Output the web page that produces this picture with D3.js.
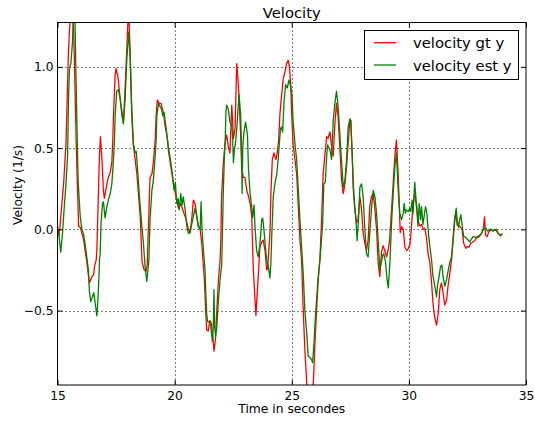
<!DOCTYPE html>
<html>
<head>
<meta charset="utf-8">
<script src="https://cdn.jsdelivr.net/npm/d3@7"></script>
<style>
  html, body { margin: 0; padding: 0; background: #fff; }
  svg { display: block; font-family: "DejaVu Sans", sans-serif; }
</style>
</head>
<body>
<svg id="chart" width="535" height="423"></svg>
<script>
// ---------------- data ----------------
const titleText = "Velocity";
const xLabelText = "Time in secondes";
const yLabelText = "Velocity (1/s)";
const seriesNames = ["velocity gt y", "velocity est y"];
const seriesColors = ["#ff0000", "#008000"];

const xTicks = [15, 20, 25, 30, 35];
const yTicks = [-0.5, 0.0, 0.5, 1.0];
const xDomain = [15, 35];
const yDomain = [-0.958, 1.273];

const gtTime = [15.00,15.07,15.26,15.36,15.47,15.58,15.65,15.71,15.80,15.90,15.98,16.12,16.25,16.36,16.47,16.54,16.58,16.65,16.68,16.75,16.79,16.83,16.89,16.96,17.00,17.11,17.17,17.25,17.32,17.36,17.39,17.46,17.50,17.58,17.67,17.79,17.82,17.93,18.00,18.04,18.10,18.17,18.24,18.39,18.53,18.61,18.70,18.77,18.83,18.91,18.95,19.03,19.09,19.17,19.21,19.26,19.34,19.42,19.52,19.59,19.69,19.73,19.84,19.95,20.06,20.16,20.26,20.37,20.49,20.59,20.66,20.73,20.80,20.87,20.94,21.01,21.09,21.16,21.23,21.27,21.33,21.37,21.44,21.50,21.57,21.63,21.68,21.74,21.80,21.87,21.94,21.97,22.01,22.08,22.15,22.22,22.29,22.36,22.44,22.51,22.58,22.65,22.70,22.75,22.82,22.86,22.93,23.00,23.08,23.14,23.22,23.29,23.36,23.47,23.61,23.64,23.72,23.78,23.86,23.93,23.97,24.07,24.11,24.17,24.24,24.33,24.38,24.44,24.50,24.57,24.64,24.71,24.78,24.85,24.90,24.95,25.00,25.06,25.21,25.28,25.35,25.42,25.49,25.56,25.64,25.69,25.86,25.92,25.99,26.06,26.13,26.20,26.27,26.34,26.41,26.49,26.55,26.63,26.70,26.77,26.84,26.91,26.98,27.05,27.13,27.20,27.27,27.34,27.41,27.48,27.52,27.58,27.62,27.69,27.77,27.83,27.91,27.98,28.05,28.12,28.19,28.26,28.33,28.40,28.47,28.54,28.62,28.69,28.76,28.83,28.90,28.97,29.05,29.11,29.18,29.25,29.32,29.40,29.47,29.54,29.59,29.63,29.69,29.76,29.83,29.91,29.97,30.05,30.11,30.18,30.25,30.33,30.39,30.47,30.54,30.61,30.68,30.75,30.82,30.89,30.96,31.03,31.10,31.18,31.25,31.32,31.39,31.46,31.53,31.61,31.67,31.75,31.82,31.89,31.96,32.00,32.06,32.17,32.27,32.34,32.43,32.48,32.56,32.64,32.74,32.81,32.88,33.00,33.10,33.17,33.23,33.27,33.34,33.41,33.50,33.58,33.67,33.74,33.81,33.91,33.99];
const gtVel = [0.02,-0.04,0.28,0.52,1.11,1.40,1.40,1.11,0.52,0.02,0.01,-0.07,-0.20,-0.33,-0.29,-0.28,-0.23,-0.19,-0.13,0.24,0.45,0.57,0.45,0.24,0.19,0.28,0.32,0.35,0.41,0.55,0.70,0.95,0.99,0.94,0.81,0.68,0.67,1.01,1.26,1.33,1.11,0.70,0.52,0.34,0.08,-0.20,-0.25,-0.26,-0.22,0.14,0.32,0.34,0.41,0.55,0.70,0.795,0.775,0.775,0.72,0.64,0.56,0.49,0.385,0.28,0.20,0.13,0.16,0.11,0.06,0.00,-0.02,0.06,0.18,0.16,0.09,0.02,0.00,-0.09,-0.23,-0.31,-0.52,-0.62,-0.625,-0.56,-0.58,-0.66,-0.75,-0.68,-0.50,-0.31,-0.19,-0.08,0.22,0.41,0.53,0.58,0.51,0.47,0.765,0.56,0.62,1.02,0.93,0.81,0.58,0.385,0.32,0.32,0.24,0.21,0.16,0.08,-0.25,-0.53,-0.19,-0.11,-0.076,-0.066,-0.13,-0.25,-0.24,-0.025,0.22,0.43,0.47,0.43,0.47,0.55,0.72,0.83,0.93,0.97,1.02,1.04,1.00,0.91,0.70,0.52,0.34,0.14,-0.066,-0.19,-0.50,-0.74,-0.95,-1.05,-1.05,-0.95,-0.70,-0.50,-0.31,-0.19,0.04,0.34,0.45,0.57,0.56,0.60,0.51,0.45,0.65,0.775,0.69,0.51,0.30,0.22,0.28,0.385,0.53,0.67,0.67,0.47,0.26,0.12,0.04,0.06,0.20,0.12,-0.025,-0.086,-0.13,-0.066,0.14,0.20,0.22,0.14,0.00,-0.21,-0.29,-0.14,-0.10,-0.13,-0.17,-0.13,-0.066,0.10,0.26,0.45,0.55,0.35,0.15,-0.02,0.016,0.00,-0.11,-0.13,-0.12,-0.09,0.016,0.16,0.22,0.14,0.057,0.02,0.03,0.00,0.006,-0.05,-0.15,-0.20,-0.31,-0.455,-0.54,-0.59,-0.52,-0.37,-0.33,-0.39,-0.465,-0.435,-0.35,-0.27,-0.19,-0.045,0.077,0.10,0.026,0.02,0.00,-0.086,-0.117,-0.107,-0.11,-0.086,-0.076,-0.07,-0.055,-0.045,-0.025,-0.004,0.077,-0.035,-0.045,-0.015,-0.004,-0.01,-0.004,-0.01,-0.025,-0.035,-0.025];

const estTime = [15.00,15.04,15.14,15.21,15.29,15.36,15.43,15.47,15.51,15.57,15.64,15.68,15.74,15.78,15.83,15.88,15.97,16.04,16.11,16.18,16.25,16.32,16.36,16.42,16.49,16.55,16.61,16.68,16.72,16.77,16.79,16.82,16.86,16.92,16.96,17.03,17.11,17.17,17.25,17.32,17.39,17.43,17.46,17.53,17.60,17.67,17.75,17.81,17.89,17.96,18.04,18.10,18.17,18.24,18.27,18.31,18.36,18.41,18.50,18.60,18.67,18.74,18.78,18.81,18.86,18.90,18.95,19.03,19.09,19.17,19.21,19.24,19.31,19.38,19.44,19.49,19.55,19.64,19.73,19.84,19.92,19.98,20.03,20.09,20.15,20.20,20.26,20.32,20.37,20.45,20.52,20.59,20.66,20.73,20.80,20.87,20.94,21.01,21.09,21.13,21.17,21.23,21.30,21.33,21.37,21.41,21.48,21.54,21.61,21.65,21.68,21.71,21.75,21.80,21.87,21.94,22.01,22.08,22.12,22.16,22.19,22.22,22.29,22.36,22.44,22.48,22.51,22.55,22.60,22.65,22.75,22.82,22.86,22.88,22.91,22.96,23.03,23.11,23.15,23.22,23.29,23.33,23.39,23.43,23.50,23.57,23.64,23.72,23.76,23.81,23.89,23.94,24.00,24.07,24.11,24.14,24.21,24.28,24.36,24.42,24.46,24.52,24.56,24.61,24.67,24.74,24.81,24.88,24.95,25.01,25.06,25.14,25.21,25.28,25.35,25.42,25.49,25.56,25.64,25.70,25.78,25.84,25.89,25.95,26.00,26.06,26.13,26.20,26.25,26.32,26.37,26.43,26.49,26.53,26.59,26.63,26.70,26.77,26.84,26.91,26.98,27.06,27.13,27.20,27.27,27.34,27.41,27.48,27.52,27.58,27.65,27.74,27.79,27.85,27.91,27.98,28.05,28.12,28.19,28.26,28.33,28.41,28.48,28.55,28.62,28.69,28.76,28.83,28.88,28.93,29.00,29.07,29.12,29.19,29.26,29.33,29.40,29.47,29.54,29.61,29.69,29.76,29.80,29.85,29.90,29.97,30.04,30.08,30.14,30.18,30.25,30.33,30.39,30.44,30.50,30.54,30.60,30.65,30.71,30.77,30.82,30.89,30.97,31.03,31.11,31.18,31.22,31.29,31.35,31.41,31.46,31.53,31.61,31.67,31.75,31.82,31.89,31.96,32.02,32.06,32.12,32.17,32.22,32.27,32.34,32.43,32.53,32.60,32.67,32.74,32.83,32.93,33.03,33.10,33.17,33.28,33.35,33.45,33.52,33.59,33.67,33.74,33.81,33.91,33.99];
const estVel = [0.00,-0.01,-0.14,-0.03,0.14,0.28,0.45,0.80,0.99,1.02,1.15,1.35,1.35,1.01,0.64,0.30,0.08,0.00,-0.03,-0.09,-0.17,-0.25,-0.38,-0.445,-0.415,-0.39,-0.455,-0.533,-0.45,-0.29,-0.19,-0.15,0.04,0.16,0.17,0.07,0.14,0.18,0.22,0.28,0.43,0.55,0.70,0.85,0.86,0.81,0.70,0.65,0.81,1.05,1.215,1.05,0.74,0.52,0.51,0.47,0.48,0.385,0.20,0.02,-0.09,-0.23,-0.28,-0.32,-0.25,-0.19,0.06,0.24,0.30,0.45,0.55,0.70,0.775,0.755,0.74,0.70,0.72,0.62,0.51,0.41,0.32,0.24,0.29,0.16,0.19,0.12,0.22,0.15,0.20,0.12,0.02,-0.025,-0.02,0.03,0.08,0.13,0.08,0.02,0.00,0.17,0.00,-0.13,-0.25,-0.39,-0.52,-0.57,-0.57,-0.59,-0.69,-0.60,-0.37,-0.60,-0.66,-0.60,-0.435,-0.31,-0.22,0.24,0.43,0.55,0.72,0.765,0.74,0.66,0.64,0.55,0.41,0.49,0.53,0.62,0.83,0.70,0.45,0.22,0.51,0.60,0.66,0.58,0.38,0.22,0.14,0.07,0.15,0.02,-0.13,-0.17,-0.09,0.06,0.07,0.00,-0.13,-0.20,-0.23,-0.30,-0.20,-0.07,0.20,0.28,0.34,0.43,0.51,0.62,0.63,0.60,0.785,0.89,0.87,0.92,0.88,0.83,0.66,0.52,0.43,0.24,0.06,-0.11,-0.27,-0.50,-0.64,-0.78,-0.79,-0.80,-0.82,-0.70,-0.56,-0.435,-0.29,-0.19,-0.10,0.04,0.28,0.29,0.45,0.52,0.50,0.49,0.43,0.67,0.775,0.85,0.755,0.57,0.41,0.26,0.30,0.43,0.63,0.68,0.67,0.45,0.22,0.06,-0.07,0.06,0.26,0.28,0.20,0.00,-0.15,-0.17,-0.025,0.14,0.24,0.20,0.10,-0.07,-0.25,-0.20,-0.16,-0.15,-0.20,-0.31,-0.36,-0.21,0.04,0.22,0.38,0.47,0.25,0.10,0.06,0.10,0.16,0.10,0.12,0.11,0.13,0.11,0.18,0.10,0.29,0.14,0.02,0.16,0.06,0.14,0.03,0.08,0.14,0.10,0.00,-0.10,-0.19,-0.29,-0.35,-0.415,-0.35,-0.29,-0.23,-0.22,-0.29,-0.35,-0.31,-0.26,-0.20,-0.17,-0.07,0.06,0.13,0.06,0.01,0.06,0.09,0.03,-0.045,-0.05,-0.066,-0.076,-0.06,-0.045,-0.05,-0.045,-0.035,-0.025,0.00,0.01,-0.01,0.00,0.00,-0.01,0.00,0.00,-0.025,-0.04,-0.03];

// ---------------- layout ----------------
const W = 535, H = 423;
const plot = { left: 57.5, right: 526, top: 22.5, bottom: 385 };
const baseFont = 12.3, largeFont = 14.8;

const svg = d3.select("#chart");
svg.append("rect").attr("width", W).attr("height", H).attr("fill", "#fff");

const x = d3.scaleLinear().domain(xDomain).range([plot.left, plot.right]);
const y = d3.scaleLinear().domain(yDomain).range([plot.bottom, plot.top]);

// clip
svg.append("defs").append("clipPath").attr("id", "plotclip")
  .append("rect")
  .attr("x", plot.left).attr("y", plot.top)
  .attr("width", plot.right - plot.left).attr("height", plot.bottom - plot.top);

// grid
const grid = svg.append("g").attr("class", "grid");
grid.selectAll("line.gx").data(xTicks.filter(d => d > xDomain[0] && d < xDomain[1]))
  .enter().append("line")
  .attr("x1", d => Math.round(x(d)) + 0.5).attr("x2", d => Math.round(x(d)) + 0.5)
  .attr("y1", plot.top).attr("y2", plot.bottom)
  .attr("stroke", "#000").attr("stroke-width", 1).attr("stroke-dasharray", "1,3");
grid.selectAll("line.gy").data(yTicks)
  .enter().append("line")
  .attr("y1", d => Math.round(y(d)) + 0.5).attr("y2", d => Math.round(y(d)) + 0.5)
  .attr("x1", plot.left).attr("x2", plot.right)
  .attr("stroke", "#000").attr("stroke-width", 1).attr("stroke-dasharray", "1,3");

// lines
const lineGen = d3.line().x(d => x(d[0])).y(d => y(d[1]));
const series = [d3.zip(gtTime, gtVel), d3.zip(estTime, estVel)];
const lines = svg.append("g").attr("clip-path", "url(#plotclip)");
series.forEach((s, i) => {
  lines.append("path").datum(s)
    .attr("d", lineGen)
    .attr("fill", "none")
    .attr("stroke", seriesColors[i])
    .attr("stroke-width", 1.3)
    .attr("stroke-linejoin", "round");
});

// axes (inside ticks, matplotlib classic style)
const fmt = d3.format(".1f");
const axB = svg.append("g").attr("transform", `translate(0,${plot.bottom})`)
  .call(d3.axisBottom(x).tickValues(xTicks).tickFormat(d3.format("d")).tickSize(-5).tickPadding(6));
const axT = svg.append("g").attr("transform", `translate(0,${plot.top})`)
  .call(d3.axisTop(x).tickValues(xTicks).tickFormat("").tickSize(-5));
const axL = svg.append("g").attr("transform", `translate(${plot.left},0)`)
  .call(d3.axisLeft(y).tickValues(yTicks).tickFormat(fmt).tickSize(-5).tickPadding(4));
const axR = svg.append("g").attr("transform", `translate(${plot.right},0)`)
  .call(d3.axisRight(y).tickValues(yTicks).tickFormat("").tickSize(-5));
[axB, axT, axL, axR].forEach(a => {
  a.select(".domain").remove();
  a.selectAll("line").attr("stroke", "#000");
  a.selectAll("text").attr("font-size", baseFont).attr("font-family", "DejaVu Sans").attr("fill", "#000");
});

// frame
svg.append("rect")
  .attr("x", plot.left).attr("y", plot.top)
  .attr("width", plot.right - plot.left).attr("height", plot.bottom - plot.top)
  .attr("fill", "none").attr("stroke", "#000").attr("stroke-width", 1);

// title and labels
svg.append("text").attr("x", (plot.left + plot.right) / 2).attr("y", 18)
  .attr("text-anchor", "middle").attr("font-size", largeFont).text(titleText);
svg.append("text").attr("x", (plot.left + plot.right) / 2).attr("y", 413)
  .attr("text-anchor", "middle").attr("font-size", baseFont).text(xLabelText);
svg.append("text").attr("transform", "translate(22,185) rotate(-90)")
  .attr("text-anchor", "middle").attr("font-size", baseFont).text(yLabelText);

// legend
const leg = svg.append("g");
leg.append("rect").attr("x", 364.5).attr("y", 30.5).attr("width", 154).attr("height", 49)
  .attr("fill", "#fff").attr("stroke", "#000").attr("stroke-width", 1);
seriesNames.forEach((name, i) => {
  const ry = 42.7 + i * 22.3;
  leg.append("line").attr("x1", 374).attr("x2", 396).attr("y1", ry).attr("y2", ry)
    .attr("stroke", seriesColors[i]).attr("stroke-width", 1.3);
  leg.append("text").attr("x", 413).attr("y", ry + 5.5)
    .attr("font-size", largeFont).text(name);
});
</script>
</body>
</html>
